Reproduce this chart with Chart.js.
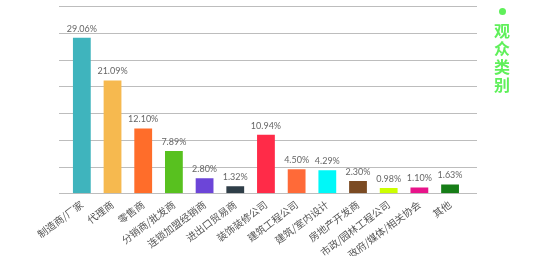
<!DOCTYPE html>
<html>
<head>
<meta charset="utf-8">
<script src="https://cdn.jsdelivr.net/npm/chart.js@4"></script>
<style>
  html, body { margin: 0; padding: 0; background: #fff; }
  .wrap { position: relative; width: 554px; height: 256px; }
  .legend { position: absolute; left: 493px; top: 6px; width: 18px; text-align: center; }
  .legend .dot { width: 7px; height: 7px; border-radius: 50%; background: #5ff05a; margin: 2px auto 0; }
  .legend .txt { writing-mode: vertical-rl; font-family: "Noto Sans CJK SC"; font-weight: bold;
    font-size: 16px; line-height: 18px; color: #5ff05a; margin-top: 8px; letter-spacing: 2px; }
</style>
</head>
<body>
<div class="wrap">
  <canvas id="chart" width="554" height="256"></canvas>
  <div class="legend"><div class="dot"></div><div class="txt">观众类别</div></div>
</div>
<script>
const categories = ['制造商/厂家', '代理商', '零售商', '分销商/批发商', '连锁加盟经销商', '进出口贸易商',
  '装饰装修公司', '建筑工程公司', '建筑/室内设计', '房地产开发商', '市政/园林工程公司', '政府/媒体/相关协会', '其他'];
const shares = [29.06, 21.09, 12.10, 7.89, 2.80, 1.32, 10.94, 4.50, 4.29, 2.30, 0.98, 1.10, 1.63];
const barColors = ['#3fb4bd', '#f6b94f', '#ff6d2a', '#58c11f', '#6c45d8', '#2f3e48', '#ff2b48',
  '#ff6a38', '#00f8f8', '#7b4b23', '#ccff00', '#e8138a', '#167d17'];

// horizontal grid lines run a bit wider than the bars
const gridPlugin = {
  id: 'wideGrid',
  beforeDatasetsDraw(chart) {
    const ctx = chart.ctx, y = chart.scales.y;
    ctx.save();
    ctx.strokeStyle = '#bdbdbd';
    ctx.lineWidth = 1;
    y.ticks.forEach(t => {
      const py = Math.round(y.getPixelForValue(t.value)) + 0.5;
      ctx.beginPath();
      ctx.moveTo(59, py);
      ctx.lineTo(477, py);
      ctx.stroke();
    });
    ctx.restore();
  }
};

const valueLabels = {
  id: 'valueLabels',
  afterDatasetsDraw(chart) {
    const ctx = chart.ctx;
    const meta = chart.getDatasetMeta(0);
    ctx.save();
    ctx.font = '9px Lato';
    ctx.fillStyle = '#666';
    ctx.textAlign = 'center';
    ctx.textBaseline = 'middle';
    meta.data.forEach((bar, i) => {
      ctx.fillText(shares[i].toFixed(2) + '%', bar.x, bar.y - 9);
    });
    ctx.restore();
  }
};

new Chart(document.getElementById('chart'), {
  type: 'bar',
  data: {
    labels: categories,
    datasets: [{
      data: shares,
      backgroundColor: barColors,
      barPercentage: 0.58,
      categoryPercentage: 1
    }]
  },
  options: {
    responsive: false,
    animation: false,
    layout: { padding: { left: 66.5, right: 88.6, top: 6, bottom: 0 } },
    plugins: { legend: { display: false }, tooltip: { enabled: false } },
    scales: {
      y: {
        display: false,
        min: 0,
        max: 35,
        ticks: { stepSize: 5 }
      },
      x: {
        grid: { display: false, drawTicks: false },
        border: { display: false },
        afterFit(scale) { scale.height = 62.7; },
        ticks: {
          minRotation: 37,
          maxRotation: 37,
          autoSkip: false,
          padding: 5,
          color: '#555',
          font: { family: 'Noto Sans CJK SC', size: 10 }
        }
      }
    }
  },
  plugins: [gridPlugin, valueLabels]
});
</script>
</body>
</html>
